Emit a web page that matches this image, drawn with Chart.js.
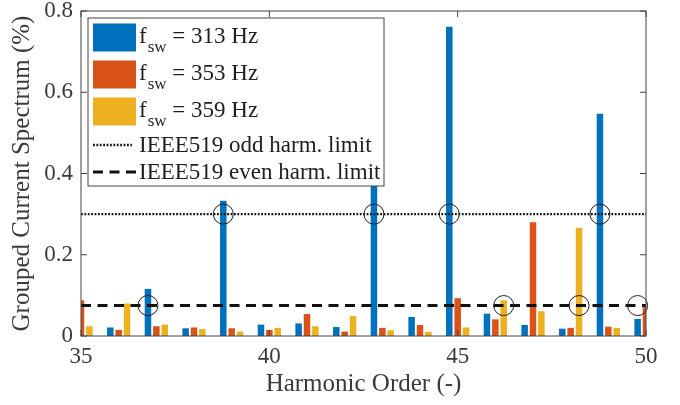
<!DOCTYPE html>
<html>
<head>
<meta charset="utf-8">
<script src="https://cdn.jsdelivr.net/npm/chart.js@4/dist/chart.umd.min.js"></script>
<style>
  html, body { margin: 0; padding: 0; background: #ffffff; }
  #wrap { width: 680px; height: 405px; }
</style>
</head>
<body>
<div id="wrap"><canvas id="chart" width="680" height="405"></canvas></div>
<script>
// Grouped current spectrum (% of fundamental) per harmonic order
const harmonics   = [35, 36, 37, 38, 39, 40, 41, 42, 43, 44, 45, 46, 47, 48, 49, 50];
const spectrum313 = [null, 0.021, 0.116, 0.019, 0.333, 0.028, 0.031, 0.022, 0.450, 0.047, 0.761, 0.055, 0.027, 0.018, 0.547, 0.042];
const spectrum353 = [0.088, 0.015, 0.024, 0.021, 0.019, 0.015, 0.054, 0.011, 0.020, 0.027, 0.093, 0.041, 0.280, 0.020, 0.023, 0.078];
const spectrum359 = [0.024, 0.080, 0.028, 0.017, 0.011, 0.020, 0.024, 0.049, 0.014, 0.010, 0.021, 0.088, 0.061, 0.266, 0.020, null];
const switchingFreqs = [313, 353, 359];

// IEEE 519 limits (%)
const oddLimit  = 0.3;
const evenLimit = 0.075;

// Harmonics flagged on each limit line: [harmonic order, series index]
const oddFlags  = [[39, 0], [43, 0], [45, 0], [49, 0]];
const evenFlags = [[37, 0], [46, 2], [48, 2], [50, 0]];

const xTickValues = [35, 40, 45, 50];
const yTickValues = [0, 0.2, 0.4, 0.6, 0.8];

const limitLabels = ['IEEE519 odd harm. limit', 'IEEE519 even harm. limit'];

// Styling
const seriesColors = ['#0072BD', '#D95319', '#EDB120'];
const groupWidth = 2 / 3;                 // share of one harmonic slot taken by a group
const barStep = groupWidth / 3;           // spacing between bars inside a group
const serif = '"Liberation Serif", "Times New Roman", serif';
const axisColor = '#444444';
const textColor = '#3a3a3a';
const dottedDash = [1.8, 1.6];
const dashedDash = [10, 6.5];

Chart.defaults.font.family = serif;
Chart.defaults.color = textColor;

const seriesValues = [spectrum313, spectrum353, spectrum359];

const barSets = seriesValues.map((vals, s) => ({
  type: 'bar',
  label: 'f_sw = ' + switchingFreqs[s] + ' Hz',
  data: harmonics.map((h, i) => ({ x: h, y: vals[i] })),
  backgroundColor: seriesColors[s],
  borderWidth: 0,
  categoryPercentage: groupWidth,
  barPercentage: 0.78,
  clip: 0,
  order: 3
}));

const limitSet = (value, dash, width) => ({
  type: 'line',
  data: [{ x: harmonics[0], y: value }, { x: harmonics[harmonics.length - 1], y: value }],
  borderColor: '#111111',
  borderWidth: width,
  borderDash: dash,
  pointRadius: 0,
  fill: false,
  clip: 0,
  order: 2
});

const flagSet = (flags, value) => ({
  type: 'line',
  showLine: false,
  data: flags.map(([h, s]) => ({ x: h + (s - 1) * barStep, y: value })),
  pointRadius: 10,
  pointStyle: 'circle',
  pointBackgroundColor: 'rgba(0,0,0,0)',
  pointBorderColor: '#1e1e1e',
  pointBorderWidth: 1,
  clip: false,
  order: 1
});

// Box around the axes, inward ticks and the legend
const framePlugin = {
  id: 'frame',
  afterDatasetsDraw(chart) {
    const { ctx, chartArea: a, scales } = chart;
    const tick = 6;
    ctx.save();
    ctx.strokeStyle = axisColor;
    ctx.lineWidth = 1;
    ctx.beginPath();
    xTickValues.forEach(v => {
      const px = scales.x.getPixelForValue(v);
      ctx.moveTo(px, a.bottom); ctx.lineTo(px, a.bottom - tick);
      ctx.moveTo(px, a.top);    ctx.lineTo(px, a.top + tick);
    });
    yTickValues.forEach(v => {
      const py = scales.y.getPixelForValue(v);
      ctx.moveTo(a.left, py);  ctx.lineTo(a.left + tick, py);
      ctx.moveTo(a.right, py); ctx.lineTo(a.right - tick, py);
    });
    ctx.stroke();
    ctx.strokeRect(a.left, a.top, a.right - a.left, a.bottom - a.top);
    ctx.restore();
  },
  afterDraw(chart) {
    const { ctx, chartArea: a } = chart;
    const L = { x: a.left + 7, y: a.top + 7, w: 296, h: 168 };
    ctx.save();
    ctx.fillStyle = '#ffffff';
    ctx.fillRect(L.x, L.y, L.w, L.h);
    ctx.strokeStyle = axisColor;
    ctx.lineWidth = 1;
    ctx.strokeRect(L.x, L.y, L.w, L.h);

    const mainFont = '23px ' + serif;
    const subFont = '17px ' + serif;
    ctx.textAlign = 'left';
    ctx.textBaseline = 'alphabetic';
    ctx.fillStyle = '#1e1e1e';

    switchingFreqs.forEach((f, i) => {
      const cy = L.y + 19.5 + i * 37;
      ctx.fillStyle = seriesColors[i];
      ctx.fillRect(L.x + 5, cy - 14, 43, 28);
      ctx.fillStyle = '#1e1e1e';
      let tx = L.x + 51;
      const base = cy + 5;
      ctx.font = mainFont;
      ctx.fillText('f', tx, base);
      tx += ctx.measureText('f').width + 1;
      ctx.font = subFont;
      ctx.fillText('sw', tx, base + 9);
      tx += ctx.measureText('sw').width;
      ctx.font = mainFont;
      ctx.fillText(' = ' + f + ' Hz', tx, base);
    });

    const lineRows = [
      { cy: L.y + 127, dash: dottedDash, width: 2.4, len: 39 },
      { cy: L.y + 154, dash: dashedDash, width: 3, len: 43 }
    ];
    lineRows.forEach((r, i) => {
      ctx.strokeStyle = '#111111';
      ctx.lineWidth = r.width;
      ctx.setLineDash(r.dash);
      ctx.beginPath();
      ctx.moveTo(L.x + 5, r.cy);
      ctx.lineTo(L.x + 5 + r.len, r.cy);
      ctx.stroke();
      ctx.setLineDash([]);
      ctx.font = mainFont;
      ctx.fillStyle = '#1e1e1e';
      ctx.fillText(limitLabels[i], L.x + 51, r.cy + 7);
    });
    ctx.restore();
  }
};

new Chart(document.getElementById('chart'), {
  type: 'bar',
  data: {
    datasets: [
      ...barSets,
      limitSet(oddLimit, dottedDash, 2.4),
      limitSet(evenLimit, dashedDash, 3),
      flagSet(oddFlags, oddLimit),
      flagSet(evenFlags, evenLimit)
    ]
  },
  options: {
    responsive: false,
    animation: false,
    events: [],
    devicePixelRatio: 1,
    layout: { padding: { top: 8, right: 34, bottom: 0, left: 0 } },
    plugins: { legend: { display: false }, tooltip: { enabled: false } },
    scales: {
      x: {
        type: 'linear',
        min: 35,
        max: 50,
        offset: false,
        grid: { display: false, drawTicks: false },
        border: { display: false },
        afterBuildTicks: s => { s.ticks = xTickValues.map(v => ({ value: v })); },
        afterFit: s => { s.height = 69; s.paddingLeft = 0; s.paddingRight = 0; },
        ticks: { font: { size: 23 }, padding: 7, color: textColor, maxRotation: 0 },
        title: {
          display: true,
          text: 'Harmonic Order (-)',
          font: { size: 25 },
          color: textColor,
          padding: { top: 0, bottom: 6 }
        }
      },
      y: {
        min: 0,
        max: 0.8,
        grid: { display: false, drawTicks: false },
        border: { display: false },
        afterBuildTicks: s => { s.ticks = yTickValues.map(v => ({ value: v })); },
        afterFit: s => { s.width = 81; s.paddingTop = 0; s.paddingBottom = 0; },
        ticks: { font: { size: 23 }, padding: 8, color: textColor },
        title: {
          display: true,
          text: 'Grouped Current Spectrum (%)',
          font: { size: 25 },
          color: textColor,
          padding: { top: 7, bottom: 0 }
        }
      }
    }
  },
  plugins: [framePlugin]
});
</script>
</body>
</html>
